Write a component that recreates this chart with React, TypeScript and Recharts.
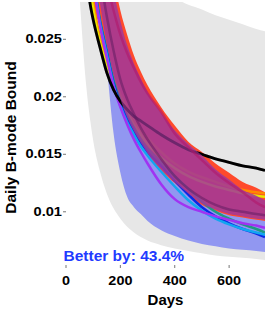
import React from "react";
import { ComposedChart, Area, Line, XAxis, YAxis } from "recharts";

const days = [50, 75, 90, 100, 125, 150, 175, 200, 225, 250, 275, 300, 350, 400, 450, 500, 550, 600, 650, 700, 732];

const grayLow = [0.0287, 0.0208, 0.0178, 0.0162, 0.0135, 0.0116, 0.0103, 0.0094, 0.0087, 0.0082, 0.0078, 0.0075, 0.0071, 0.0068, 0.0066, 0.0064, 0.0062, 0.0061, 0.006, 0.0059, 0.0058];
const grayHigh = [0.052, 0.046, 0.043, 0.041, 0.038, 0.036, 0.0345, 0.0333, 0.0323, 0.0315, 0.0308, 0.0302, 0.0293, 0.0286, 0.028, 0.0276, 0.0271, 0.0267, 0.0263, 0.0259, 0.0257];

const blueLow = [null, null, null, null, null, 0.0228, 0.0168, 0.0134, 0.0113, 0.0104, 0.0098, 0.0092, 0.0084, 0.0079, 0.0075, 0.0072, 0.007, 0.0068, 0.0067, 0.0066, 0.0065];
const blueHigh = [null, null, null, null, null, 0.0236, 0.021, 0.0196, 0.0184, 0.0173, 0.0164, 0.0156, 0.0143, 0.0131, 0.0121, 0.0112, 0.0106, 0.0102, 0.0099, 0.0097, 0.0096];

const redLow = [null, null, 0.029, 0.0278, 0.0262, 0.0244, 0.0217, 0.0196, 0.0181, 0.0169, 0.0159, 0.015, 0.0136, 0.0125, 0.0115, 0.0106, 0.0101, 0.0097, 0.0095, 0.0093, 0.0092];
const redHigh = [null, null, 0.045, 0.043, 0.038, 0.0335, 0.0303, 0.0275, 0.0254, 0.0236, 0.0222, 0.021, 0.0191, 0.0175, 0.0161, 0.0152, 0.0142, 0.0134, 0.0126, 0.0121, 0.0117];

const purpleLow = [null, null, 0.0335, 0.0315, 0.0281, 0.0246, 0.0219, 0.0198, 0.0182, 0.017, 0.016, 0.0151, 0.0137, 0.0126, 0.0116, 0.0107, 0.0102, 0.0098, 0.0096, 0.0094, 0.0093];
const purpleHigh = [null, null, 0.044, 0.042, 0.037, 0.032, 0.0292, 0.0266, 0.0245, 0.0229, 0.0216, 0.0204, 0.0186, 0.0171, 0.0159, 0.0149, 0.0137, 0.0128, 0.0119, 0.0114, 0.011];

const blackLine = [0.034, 0.0302, 0.0279, 0.0267, 0.0243, 0.0221, 0.0206, 0.0196, 0.0189, 0.0183, 0.0179, 0.0175, 0.0167, 0.016, 0.0154, 0.015, 0.0146, 0.0143, 0.014, 0.0138, 0.0136];
const yellowLine = [null, null, 0.029, 0.0276, 0.0247, 0.0228, 0.0212, 0.0198, 0.0186, 0.0176, 0.0167, 0.0159, 0.0147, 0.0138, 0.0131, 0.0126, 0.0122, 0.0119, 0.0116, 0.0114, 0.0113];
const orangeLine = [null, null, 0.0296, 0.0282, 0.0252, 0.0232, 0.0216, 0.0202, 0.019, 0.018, 0.0171, 0.0164, 0.0152, 0.0142, 0.0135, 0.013, 0.0126, 0.0122, 0.0119, 0.0117, 0.0116];
const violetLine = [null, null, null, 0.03, 0.0262, 0.0234, 0.0209, 0.0191, 0.0176, 0.0163, 0.0152, 0.0142, 0.0124, 0.0111, 0.0104, 0.01, 0.0096, 0.0093, 0.009, 0.0088, 0.0086];
const cyanLine = [null, null, null, 0.0302, 0.0264, 0.0237, 0.021, 0.0192, 0.0178, 0.0167, 0.0157, 0.0149, 0.0135, 0.0122, 0.011, 0.0101, 0.0094, 0.0089, 0.0085, 0.0082, 0.008];
const blueLine = [null, null, null, 0.0303, 0.0265, 0.0239, 0.0212, 0.0194, 0.0181, 0.017, 0.016, 0.0152, 0.014, 0.0127, 0.0115, 0.0104, 0.0096, 0.009, 0.0085, 0.0081, 0.0078];
const tealLine = [null, null, null, 0.0305, 0.0267, 0.0241, 0.0215, 0.0197, 0.0184, 0.0173, 0.0163, 0.0155, 0.0143, 0.0131, 0.012, 0.0109, 0.01, 0.0094, 0.0089, 0.0085, 0.0082];
const magentaLine = [null, null, null, 0.036, 0.033, 0.03, 0.0275, 0.0254, 0.0238, 0.0225, 0.0213, 0.0203, 0.0187, 0.0168, 0.0156, 0.0145, 0.0134, 0.0125, 0.0117, 0.0108, 0.0104];
const plumLine = [null, null, null, 0.033, 0.0305, 0.027, 0.024, 0.0215, 0.0198, 0.0185, 0.0173, 0.0163, 0.0146, 0.0131, 0.012, 0.0112, 0.0106, 0.0102, 0.01, 0.0098, 0.0097];

const xTicks = [0, 200, 400, 600];
const yTicks = [0.01, 0.015, 0.02, 0.025];
const xTitle = "Days";
const yTitle = "Daily B-mode Bound";
const note = "Better by: 43.4%";

const pair = (a: (number | null)[], b: (number | null)[], i: number) =>
  a[i] == null || b[i] == null ? null : [a[i], b[i]];

const rows = days.map((day, i) => ({
  day,
  gray: pair(grayLow, grayHigh, i),
  blueBand: pair(blueLow, blueHigh, i),
  redBand: pair(redLow, redHigh, i),
  purpleBand: pair(purpleLow, purpleHigh, i),
  black: blackLine[i],
  yellow: yellowLine[i],
  orange: orangeLine[i],
  violet: violetLine[i],
  cyan: cyanLine[i],
  blue: blueLine[i],
  teal: tealLine[i],
  magenta: magentaLine[i],
  plum: plumLine[i],
}));

const FONT = "'Liberation Sans', Arial, Helvetica, sans-serif";

const YTick = (props: any) => {
  const { x, y, payload } = props;
  return (
    <text transform={`translate(${x},${y + 4.2}) scale(1.22,1)`} textAnchor="end" fontFamily={FONT} fontWeight="bold" fontSize={12} fill="#000">
      {String(payload.value)}
    </text>
  );
};

const XTick = (props: any) => {
  const { x, y, payload } = props;
  return (
    <text transform={`translate(${x},${y + 14.5}) scale(1.2,1)`} textAnchor="middle" fontFamily={FONT} fontWeight="bold" fontSize={12} fill="#000">
      {String(payload.value)}
    </text>
  );
};

const lineProps = { type: "monotone" as const, dot: false, activeDot: false, isAnimationActive: false, connectNulls: false };

export default function App() {
  return (
    <div style={{ position: "fixed", left: 0, top: 0, width: 266, height: 309, background: "#fff" }}>
      <ComposedChart width={266} height={309} data={rows} margin={{ top: 2, right: 1, bottom: 0, left: 0 }}>
        <XAxis dataKey="day" type="number" domain={[0, 732]} ticks={xTicks} allowDataOverflow axisLine={false} tickLine={{ stroke: "#777" }} tickSize={3} tickMargin={2} height={44} tick={XTick} />
        <YAxis type="number" domain={[0.005373, 0.028243]} ticks={yTicks} allowDataOverflow axisLine={false} tickLine={{ stroke: "#777" }} tickSize={3} tickMargin={1} width={66} tick={YTick} />
        <Area type="monotone" dataKey="gray" fill="#e7e7e7" fillOpacity={1} stroke="none" isAnimationActive={false} zIndex={101} />
        <Area type="monotone" dataKey="blueBand" fill="#9197f1" fillOpacity={1} stroke="none" isAnimationActive={false} zIndex={102} />
        <Area type="monotone" dataKey="redBand" fill="#ff4a2c" fillOpacity={1} stroke="none" isAnimationActive={false} zIndex={103} />
        <Line {...lineProps} dataKey="orange" stroke="#ff8a00" strokeWidth={2.5} zIndex={401} />
        <Line {...lineProps} dataKey="yellow" stroke="#e8e800" strokeWidth={2.5} zIndex={402} />
        <Line {...lineProps} dataKey="teal" stroke="#1f9a82" strokeWidth={2.5} zIndex={403} />
        <Line {...lineProps} dataKey="blue" stroke="#0a28e6" strokeWidth={2.5} zIndex={404} />
        <Line {...lineProps} dataKey="cyan" stroke="#12a6f0" strokeWidth={2.5} zIndex={405} />
        <Line {...lineProps} dataKey="violet" stroke="#a033f2" strokeWidth={2.5} zIndex={406} />
        <Line {...lineProps} dataKey="black" stroke="#000" strokeWidth={2.8} zIndex={407} />
        <Area type="monotone" dataKey="purpleBand" fill="#a0379b" fillOpacity={0.85} stroke="none" isAnimationActive={false} zIndex={450} />
        <Line {...lineProps} dataKey="black" stroke="#000" strokeOpacity={0.18} strokeWidth={2.8} zIndex={451} />
        <Line {...lineProps} dataKey="plum" stroke="#5a1a5e" strokeOpacity={0.5} strokeWidth={2.5} zIndex={452} />
        <Line {...lineProps} dataKey="magenta" stroke="#b0186a" strokeOpacity={0.6} strokeWidth={2.5} zIndex={453} />
      </ComposedChart>
      <svg width={266} height={309} style={{ position: "absolute", left: 0, top: 0, pointerEvents: "none" }}>
        <text x={63.5} y={260.5} fontFamily={FONT} fontWeight="bold" fontSize={15.5} fill="#1f3bff">
          {note}
        </text>
        <text x={165.5} y={305} textAnchor="middle" fontFamily={FONT} fontWeight="bold" fontSize={15} fill="#000">
          {xTitle}
        </text>
        <text transform="translate(16,137.5) rotate(-90)" textAnchor="middle" fontFamily={FONT} fontWeight="bold" fontSize={15.5} fill="#000">
          {yTitle}
        </text>
      </svg>
    </div>
  );
}
